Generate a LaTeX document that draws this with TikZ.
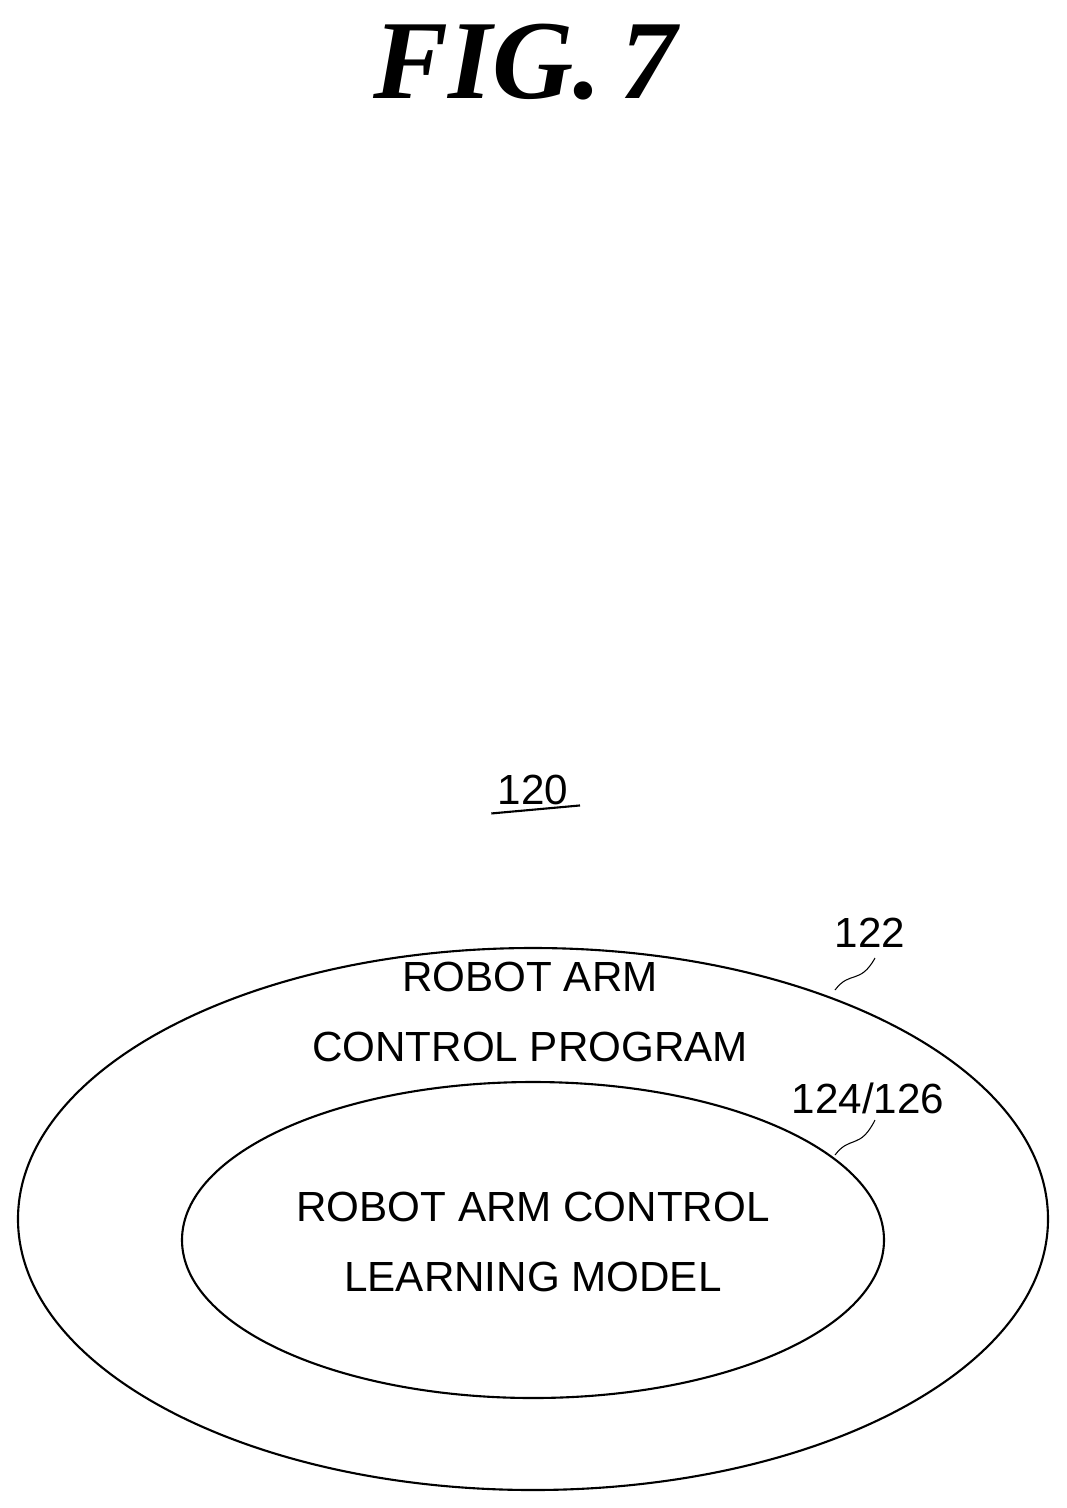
\documentclass[tikz,border=0pt]{standalone}
\usepackage{fontspec}
\setmainfont{Liberation Sans}
\newfontfamily\titlefont{Liberation Serif}
\usetikzlibrary{shapes.geometric}

\begin{document}
\begin{tikzpicture}[x=0.02cm, y=-0.02cm, semithick,
    label/.style={font=\fontsize{24}{40}\selectfont, align=center, inner sep=0pt},
    ring/.style={draw, ellipse, line width=1.2pt, inner sep=0pt}]

\useasboundingbox (0,0) rectangle (1067,1508);

\node (title) at (525, 62) [font=\titlefont\bfseries\itshape\fontsize{64}{70}\selectfont] {FIG.\,7};

\node (ref120) at (533, 790) [label] {120};
\draw[line width=1.2pt] (ref120.south west) ++(-6,8) coordinate (ul1) -- (ref120.south east -| 580,0) coordinate (ul2);

\node (outer) at (533, 1219) [ring, minimum width=1030*0.02cm, minimum height=542*0.02cm] {};
\node (inner) at (533, 1240) [ring, minimum width=702*0.02cm, minimum height=316*0.02cm] {};

\node (program) at (530, 1012) [label] {ROBOT ARM\\CONTROL PROGRAM};
\node (model) at (533, 1242) [label] {ROBOT ARM CONTROL\\LEARNING MODEL};

\node (ref122) at (870, 933) [label] {122};
\node (ref124) at (868, 1098) [label] {124/126};

% leader lines
\coordinate (lead1) at (835, 990);
\coordinate (lead2) at (835, 1155);
\draw (lead1) .. controls (850, 970) and (860, 985) .. (875, 958);
\draw (lead2) .. controls (850, 1135) and (860, 1150) .. (875, 1120);

\end{tikzpicture}
\end{document}
